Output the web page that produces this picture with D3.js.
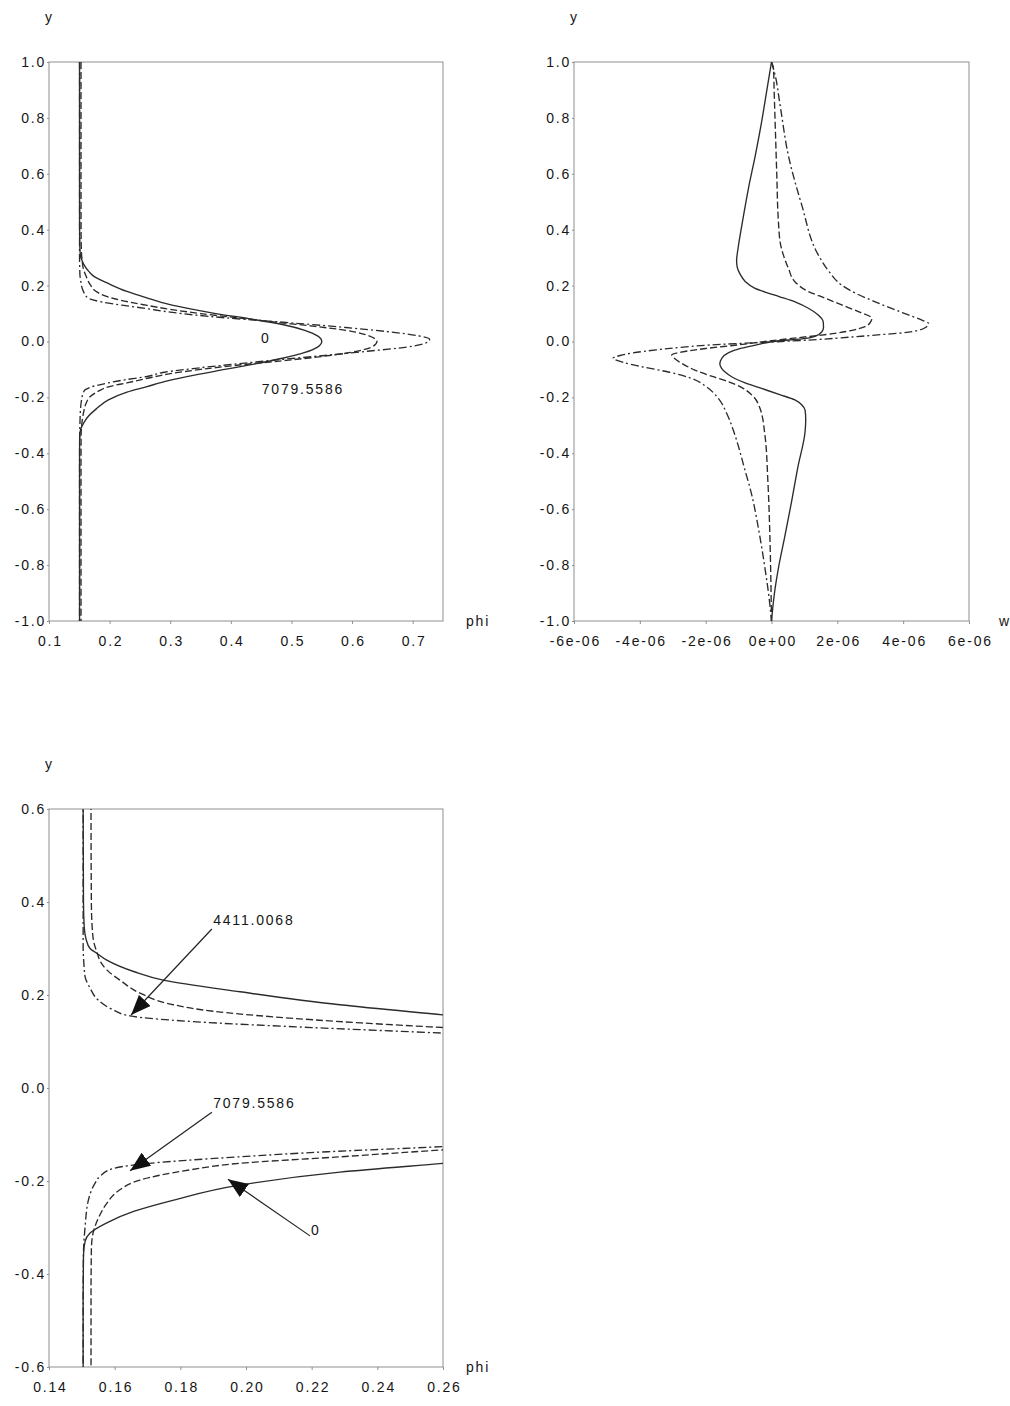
<!DOCTYPE html>
<html>
<head>
<meta charset="utf-8">
<script src="https://cdn.jsdelivr.net/npm/d3@7"></script>
<style>
  body { margin: 0; background: #fff; }
  svg { display: block; }
  text { font-family: "Liberation Sans", Arial, sans-serif; font-size: 14px; fill: #151515; letter-spacing: 1.8px; }
</style>
</head>
<body>
<svg id="fig" width="1010" height="1406"></svg>
<script>
// ---- series ----
const seriesNames = ["0", "4411.0068", "7079.5586"];
const seriesDash = [null, "7,3", "8,3,2,3"];

// phi profiles across the channel (y from 1 to -1)
const phiY0 = [1.0, 0.6, 0.4, 0.35, 0.32, 0.30, 0.29, 0.275, 0.25, 0.232, 0.207, 0.179, 0.157, 0.14, 0.12, 0.10, 0.08, 0.06, 0.04, 0.02, 0.0, -0.02, -0.04, -0.06, -0.08, -0.10, -0.12, -0.14, -0.162, -0.181, -0.209, -0.241, -0.265, -0.29, -0.312, -0.33, -0.36, -0.45, -0.6, -1.0];
const phi0 = [0.1504, 0.1504, 0.1505, 0.1507, 0.1513, 0.1525, 0.1545, 0.1576, 0.166, 0.1748, 0.1982, 0.2286, 0.2603, 0.285, 0.325, 0.375, 0.435, 0.487, 0.522, 0.543, 0.550, 0.543, 0.521, 0.485, 0.44, 0.39, 0.34, 0.297, 0.2603, 0.2286, 0.198, 0.178, 0.166, 0.1576, 0.1525, 0.151, 0.1505, 0.1504, 0.1504, 0.1504];

const phiY1 = [1.0, 0.6, 0.4, 0.34, 0.312, 0.29, 0.27, 0.254, 0.23, 0.204, 0.179, 0.165, 0.153, 0.14, 0.13, 0.115, 0.10, 0.085, 0.07, 0.055, 0.04, 0.02, 0.0, -0.02, -0.04, -0.055, -0.07, -0.085, -0.10, -0.115, -0.133, -0.148, -0.162, -0.176, -0.198, -0.222, -0.248, -0.273, -0.298, -0.32, -0.35, -0.45, -0.6, -1.0];
const phi1 = [0.1528, 0.1528, 0.1529, 0.1532, 0.1537, 0.1547, 0.1558, 0.1576, 0.162, 0.1677, 0.1779, 0.19, 0.2083, 0.235, 0.26, 0.30, 0.35, 0.41, 0.47, 0.535, 0.59, 0.628, 0.641, 0.632, 0.595, 0.545, 0.48, 0.41, 0.35, 0.30, 0.26, 0.2286, 0.198, 0.183, 0.1677, 0.161, 0.1576, 0.1555, 0.154, 0.1532, 0.1529, 0.1528, 0.1528, 0.1528];

const phiY2 = [1.0, 0.6, 0.4, 0.30, 0.282, 0.26, 0.239, 0.215, 0.189, 0.17, 0.155, 0.141, 0.13, 0.118, 0.105, 0.095, 0.085, 0.075, 0.063, 0.05, 0.035, 0.02, 0.008, -0.005, -0.02, -0.035, -0.05, -0.065, -0.08, -0.095, -0.11, -0.126, -0.137, -0.148, -0.164, -0.173, -0.19, -0.205, -0.241, -0.298, -0.356, -0.45, -0.6, -1.0];
const phi2 = [0.1504, 0.1504, 0.1504, 0.1504, 0.1505, 0.1507, 0.151, 0.1525, 0.155, 0.159, 0.1647, 0.188, 0.22, 0.26, 0.30, 0.34, 0.39, 0.45, 0.52, 0.59, 0.66, 0.71, 0.728, 0.722, 0.69, 0.625, 0.555, 0.48, 0.41, 0.345, 0.29, 0.26, 0.225, 0.198, 0.1677, 0.1596, 0.1555, 0.154, 0.152, 0.151, 0.1505, 0.1504, 0.1504, 0.1504];

// w profiles across the channel
const wY0 = [1.0, 0.9, 0.786, 0.667, 0.548, 0.43, 0.33, 0.29, 0.265, 0.24, 0.215, 0.19, 0.175, 0.16, 0.14, 0.119, 0.095, 0.071, 0.05, 0.035, 0.02, 0.011, 0.0, -0.012, -0.024, -0.04, -0.06, -0.08, -0.095, -0.11, -0.126, -0.148, -0.168, -0.19, -0.209, -0.228, -0.245, -0.28, -0.323, -0.45, -0.573, -0.70, -0.811, -0.90, -1.0];
const w0 = [0, -0.14e-6, -0.30e-6, -0.49e-6, -0.70e-6, -0.88e-6, -1.02e-6, -1.06e-6, -1.04e-6, -0.95e-6, -0.80e-6, -0.50e-6, -0.15e-6, 0.25e-6, 0.75e-6, 1.12e-6, 1.42e-6, 1.57e-6, 1.58e-6, 1.53e-6, 1.35e-6, 1.05e-6, 0.05e-6, -0.45e-6, -0.91e-6, -1.30e-6, -1.51e-6, -1.57e-6, -1.52e-6, -1.40e-6, -1.21e-6, -0.80e-6, -0.30e-6, 0.25e-6, 0.71e-6, 0.93e-6, 1.02e-6, 1.04e-6, 1.02e-6, 0.80e-6, 0.61e-6, 0.40e-6, 0.21e-6, 0.09e-6, 0];

const wY1 = [1.0, 0.977, 0.9, 0.786, 0.6, 0.429, 0.35, 0.31, 0.26, 0.214, 0.18, 0.155, 0.13, 0.107, 0.083, 0.068, 0.053, 0.04, 0.029, 0.011, 0.0, -0.012, -0.025, -0.037, -0.048, -0.06, -0.08, -0.102, -0.125, -0.144, -0.165, -0.191, -0.239, -0.335, -0.5, -0.692, -0.85, -1.0];
const w1 = [0, 0.06e-6, 0.08e-6, 0.11e-6, 0.16e-6, 0.21e-6, 0.27e-6, 0.36e-6, 0.52e-6, 0.71e-6, 1.10e-6, 1.63e-6, 2.15e-6, 2.64e-6, 3.05e-6, 3.00e-6, 2.84e-6, 2.45e-6, 1.93e-6, 0.61e-6, -0.20e-6, -1.00e-6, -2.00e-6, -2.70e-6, -3.03e-6, -2.95e-6, -2.70e-6, -2.33e-6, -1.80e-6, -1.31e-6, -0.90e-6, -0.60e-6, -0.35e-6, -0.20e-6, -0.11e-6, -0.05e-6, -0.02e-6, 0];

const wY2 = [1.0, 0.953, 0.846, 0.667, 0.488, 0.31, 0.25, 0.202, 0.17, 0.142, 0.095, 0.075, 0.065, 0.052, 0.041, 0.03, 0.023, 0.012, 0.005, 0.0, -0.01, -0.03, -0.05, -0.06, -0.075, -0.09, -0.11, -0.132, -0.16, -0.203, -0.26, -0.335, -0.45, -0.549, -0.68, -0.81, -0.92, -1.0];
const w2 = [0, 0.11e-6, 0.26e-6, 0.51e-6, 0.92e-6, 1.42e-6, 1.75e-6, 2.13e-6, 2.60e-6, 3.15e-6, 4.16e-6, 4.60e-6, 4.77e-6, 4.70e-6, 4.50e-6, 3.90e-6, 3.15e-6, 2.00e-6, 1.12e-6, 0.30e-6, -1.50e-6, -3.50e-6, -4.60e-6, -4.81e-6, -4.50e-6, -3.95e-6, -3.10e-6, -2.43e-6, -2.00e-6, -1.62e-6, -1.35e-6, -1.11e-6, -0.83e-6, -0.60e-6, -0.38e-6, -0.20e-6, -0.07e-6, 0];

// ---- ticks ----
const phiTicks = [0.1, 0.2, 0.3, 0.4, 0.5, 0.6, 0.7];
const phiTickLabels = ["0.1", "0.2", "0.3", "0.4", "0.5", "0.6", "0.7"];
const yTicks = [1.0, 0.8, 0.6, 0.4, 0.2, 0.0, -0.2, -0.4, -0.6, -0.8, -1.0];
const yTickLabels = ["1.0", "0.8", "0.6", "0.4", "0.2", "0.0", "-0.2", "-0.4", "-0.6", "-0.8", "-1.0"];
const wTicks = [-6e-6, -4e-6, -2e-6, 0, 2e-6, 4e-6, 6e-6];
const wTickLabels = ["-6e-06", "-4e-06", "-2e-06", "0e+00", "2e-06", "4e-06", "6e-06"];
const phiZoomTicks = [0.14, 0.16, 0.18, 0.20, 0.22, 0.24, 0.26];
const phiZoomTickLabels = ["0.14", "0.16", "0.18", "0.20", "0.22", "0.24", "0.26"];
const yZoomTicks = [0.6, 0.4, 0.2, 0.0, -0.2, -0.4, -0.6];
const yZoomTickLabels = ["0.6", "0.4", "0.2", "0.0", "-0.2", "-0.4", "-0.6"];

// ---- annotations (data units) ----
const peakLabels = [
  { text: "0", phi: 0.4497, y: -0.005 },
  { text: "7079.5586", phi: 0.451, y: -0.188 }
];
const zoomArrows = [
  { text: "4411.0068", tx: 0.19, ty: 0.3505, x0: 0.1896, y0: 0.342, x1: 0.165, y1: 0.157 },
  { text: "7079.5586", tx: 0.19, ty: -0.043, x0: 0.1896, y0: -0.052, x1: 0.1647, y1: -0.178 },
  { text: "0", tx: 0.2198, ty: -0.316, x0: 0.2195, y0: -0.318, x1: 0.1945, y1: -0.196 }
];

const svg = d3.select("#fig");
const ink = "#2b2b2b";
const frameColor = "#8f8f8f";

const defs = svg.append("defs");
defs.append("marker")
  .attr("id", "head")
  .attr("viewBox", "-20 -8 20 16")
  .attr("refX", 0).attr("refY", 0)
  .attr("markerWidth", 20).attr("markerHeight", 16)
  .attr("markerUnits", "userSpaceOnUse")
  .attr("orient", "auto")
  .append("path").attr("d", "M0,0L-20,-8L-20,8Z").attr("fill", "#111");

function zip(ys, vs) { return ys.map((yy, i) => ({ y: yy, v: vs[i] })); }

function panel(cfg) {
  const g = svg.append("g").attr("transform", `translate(${cfg.left},${cfg.top})`);
  const x = d3.scaleLinear().domain(cfg.xDomain).range([0, cfg.width]);
  const y = d3.scaleLinear().domain(cfg.yDomain).range([cfg.height, 0]);

  defs.append("clipPath").attr("id", cfg.id + "-clip")
    .append("rect").attr("width", cfg.width).attr("height", cfg.height);

  const xAxis = g.append("g").attr("transform", `translate(0,${cfg.height})`)
    .call(d3.axisBottom(x).tickValues(cfg.xTicks)
      .tickFormat((d, i) => cfg.xLabels[i]).tickSize(3).tickPadding(12));
  const yAxis = g.append("g")
    .call(d3.axisLeft(y).tickValues(cfg.yTicks)
      .tickFormat((d, i) => cfg.yLabels[i]).tickSize(2).tickPadding(1));
  [xAxis, yAxis].forEach(a => {
    a.select(".domain").remove();
    a.selectAll(".tick line").attr("stroke", frameColor);
    a.selectAll(".tick text").attr("fill", "#151515")
      .style("font-family", "'Liberation Sans', Arial, sans-serif").style("font-size", "14px");
  });
  xAxis.selectAll(".tick text").attr("dx", "0.9px");

  g.append("rect").attr("width", cfg.width).attr("height", cfg.height)
    .attr("fill", "none").attr("stroke", frameColor).attr("stroke-width", 1);

  g.append("text").attr("x", -4).attr("y", -40).text("y");
  g.append("text").attr("x", cfg.width + cfg.xTitleDx).attr("y", cfg.height + 5).text(cfg.xTitle);

  const plot = g.append("g").attr("clip-path", `url(#${cfg.id}-clip)`);
  return { g, x, y, plot };
}

function drawSeries(p, profiles) {
  const line = d3.line().x(d => p.x(d.v)).y(d => p.y(d.y)).curve(d3.curveMonotoneY);
  profiles.forEach((data, i) => {
    p.plot.append("path").datum(data)
      .attr("d", line)
      .attr("fill", "none")
      .attr("stroke", ink)
      .attr("stroke-width", 1.35)
      .attr("stroke-dasharray", seriesDash[i]);
  });
}

const phiProfiles = [zip(phiY0, phi0), zip(phiY1, phi1), zip(phiY2, phi2)];
const wProfiles = [zip(wY0, w0), zip(wY1, w1), zip(wY2, w2)];

// top-left: phi across the full channel
const p1 = panel({ id: "p1", left: 49, top: 62, width: 394, height: 559,
  xDomain: [0.1, 0.75], yDomain: [-1, 1],
  xTicks: phiTicks, xLabels: phiTickLabels, yTicks: yTicks, yLabels: yTickLabels,
  xTitle: "phi", xTitleDx: 23 });
drawSeries(p1, phiProfiles);
peakLabels.forEach(l => {
  p1.g.append("text").attr("x", p1.x(l.phi)).attr("y", p1.y(l.y)).text(l.text);
});

// top-right: w across the full channel
const p2 = panel({ id: "p2", left: 574, top: 62, width: 395, height: 559,
  xDomain: [-6e-6, 6e-6], yDomain: [-1, 1],
  xTicks: wTicks, xLabels: wTickLabels, yTicks: yTicks, yLabels: yTickLabels,
  xTitle: "w", xTitleDx: 30 });
drawSeries(p2, wProfiles);

// bottom-left: close-up of the phi profile flanks
const p3 = panel({ id: "p3", left: 49, top: 809, width: 394, height: 558,
  xDomain: [0.14, 0.26], yDomain: [-0.6, 0.6],
  xTicks: phiZoomTicks, xLabels: phiZoomTickLabels, yTicks: yZoomTicks, yLabels: yZoomTickLabels,
  xTitle: "phi", xTitleDx: 23 });
drawSeries(p3, phiProfiles);
zoomArrows.forEach(a => {
  p3.g.append("line")
    .attr("x1", p3.x(a.x0)).attr("y1", p3.y(a.y0))
    .attr("x2", p3.x(a.x1)).attr("y2", p3.y(a.y1))
    .attr("stroke", "#222").attr("stroke-width", 1.2)
    .attr("marker-end", "url(#head)");
  p3.g.append("text").attr("x", p3.x(a.tx)).attr("y", p3.y(a.ty)).text(a.text);
});
</script>
</body>
</html>
